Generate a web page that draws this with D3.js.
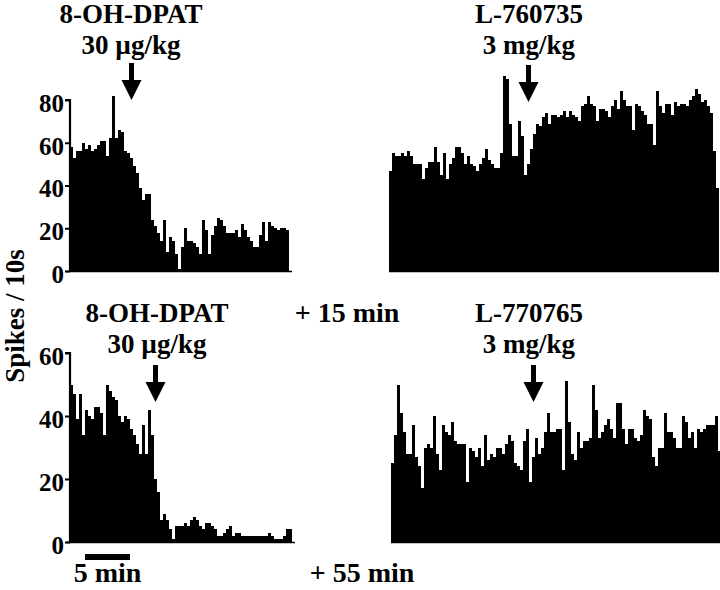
<!DOCTYPE html>
<html><head><meta charset="utf-8">
<script src="https://cdn.jsdelivr.net/npm/d3@7"></script>
<style>
body{margin:0;background:#fff}
svg{display:block}
text{font-family:"Liberation Serif","Times New Roman",serif;font-weight:bold;fill:#000}
</style>
</head><body>
<svg id="chart" width="720" height="590"></svg>
<script>
// ---- data (spikes per bin) ----
const topLeftValues = [58,53,56,56,60,57,59,56,57,59,61,61,54,62,82,62,66,65,56,55,53,49,46,39,33,36,36,24,21,18,14,24,9,16,14,8,1,11,20,14,14,13,11,8,24,19,8,17,21,25,24,21,18,18,18,19,16,22,19,16,14,11,11,17,23,14,23,21,20,19,20,20,19];
const topRightValues = [47,55,54,54,55,54,56,54,50,50,50,43,48,51,51,58,51,45,55,43,50,53,58,58,55,50,54,50,49,47,50,53,57,52,50,48,48,55,91,90,69,54,54,70,63,45,50,57,64,69,68,72,74,69,73,
  73,72,73,75,72,75,73,72,70,77,78,82,78,77,70,76,76,75,72,77,80,76,84,80,77,77,66,78,77,75,73,69,69,59,84,77,74,78,78,73,79,77,78,78,77,80,82,85,83,79,80,77,74,56,39];
const bottomLeftValues = [50,47,39,47,34,42,40,39,43,43,41,34,50,48,46,45,40,38,40,39,36,34,31,28,37,28,42,34,20,16,7,9,7,4,1,5,5,5,6,5,7,8,7,5,4,6,6,5,4,2,2,3,4,5,2,3,3,2,2,2,2,2,2,2,2,2,3,2,1,1,1,2,4,4];
const bottomRightValues = [25,34,50,41,35,28,28,37,27,24,17,30,31,30,40,28,23,37,35,34,38,32,31,31,31,19,30,29,27,30,24,34,26,28,27,30,30,28,31,34,32,25,24,23,32,36,19,27,33,28,30,35,41,35,
  35,36,36,23,51,38,28,26,35,30,32,32,33,50,42,33,35,37,39,36,33,44,44,36,31,36,36,33,32,34,42,40,39,27,24,30,30,41,35,35,33,30,30,40,38,33,35,30,36,35,36,37,37,37,40,29];
const topTicks = [0,20,40,60,80];
const bottomTicks = [0,20,40,60];
const drugNames = ["8-OH-DPAT","L-760735","8-OH-DPAT","L-770765"];
const doseLabels = ["30 \u00b5g/kg","3 mg/kg","30 \u00b5g/kg","3 mg/kg"];
const injectionBins = [20,46,28,47];
const timeLabels = ["+ 15 min","+ 55 min"];
const yAxisTitle = "Spikes / 10s";
const scaleBarLabel = "5 min";
const scaleBarBins = [5,20];

// ---- layout ----
const svg = d3.select("#chart");
const F = 27;
const panels = [
  {values: topLeftValues,     x0:70,  x1:289, yMax:80, y0:271, yTop:100, ticks: topTicks,    axis:true,  titleX:131, titleY:23,  tipY:100},
  {values: topRightValues,    x0:389, x1:719, yMax:80, y0:271, yTop:100, ticks: null,        axis:false, titleX:529, titleY:23,  tipY:102},
  {values: bottomLeftValues,  x0:70,  x1:292, yMax:60, y0:542, yTop:353, ticks: bottomTicks, axis:true,  titleX:157, titleY:322, tipY:402},
  {values: bottomRightValues, x0:391, x1:721, yMax:60, y0:542, yTop:353, ticks: null,        axis:false, titleX:529, titleY:322, tipY:402}
];

panels.forEach((p, k) => {
  const x = d3.scaleBand().domain(d3.range(p.values.length)).range([p.x0, p.x1]).padding(0);
  const y = d3.scaleLinear().domain([0, p.yMax]).range([p.y0, p.yTop]);
  p.x = x; p.y = y;
  const g = svg.append("g");
  g.selectAll("rect.bar").data(p.values).join("rect")
    .attr("class","bar")
    .attr("x",(d,i)=>x(i))
    .attr("width",x.bandwidth()+0.4)
    .attr("y",d=>y(d))
    .attr("height",d=>y(0)-y(d))
    .attr("fill","#000")
    .attr("shape-rendering","crispEdges");
  // baseline
  g.append("line").attr("x1",p.axis? p.x0-4 : p.x0).attr("x2",p.x1+ (p.axis?3:0))
    .attr("y1",y(0)+0.5).attr("y2",y(0)+0.5).attr("stroke","#000").attr("stroke-width",1.5);
  if (p.axis) {
    const ax = d3.axisLeft(y).tickValues(p.ticks).tickSize(5).tickPadding(1).tickFormat(d3.format("d"));
    const a = g.append("g").attr("transform",`translate(${p.x0},0)`).call(ax);
    a.select(".domain").attr("stroke-width",2.2).attr("d",`M-5,${y(p.yMax)}H0V${y(0)}`);
    a.selectAll(".tick line").attr("stroke-width",2);
    a.selectAll(".tick text").attr("font-size",25).attr("font-family","Liberation Serif")
      .attr("font-weight","bold").attr("dy","0.45em").attr("fill","#000");
  }
  // labels
  svg.append("text").attr("x",p.titleX).attr("y",p.titleY).attr("text-anchor","middle")
    .attr("font-size",F).text(drugNames[k]);
  svg.append("text").attr("x",p.titleX).attr("y",p.titleY+31).attr("text-anchor","middle")
    .attr("font-size",F).text(doseLabels[k]);
  // arrow
  const ax0 = x(injectionBins[k]) + x.bandwidth()/2;
  const t = p.tipY;
  svg.append("path")
    .attr("d",`M${ax0-2.5},${t-37}H${ax0+2.5}V${t-20}H${ax0+10}L${ax0},${t}L${ax0-10},${t-20}H${ax0-2.5}Z`)
    .attr("fill","#000");
});

// timing labels
svg.append("text").attr("x",347).attr("y",322).attr("text-anchor","middle").attr("font-size",28).text(timeLabels[0]);
svg.append("text").attr("x",362).attr("y",582).attr("text-anchor","middle").attr("font-size",28).text(timeLabels[1]);

// scale bar
const bl = panels[2];
svg.append("rect").attr("x",bl.x(scaleBarBins[0])).attr("width",bl.x(scaleBarBins[1])-bl.x(scaleBarBins[0]))
  .attr("y",554).attr("height",6).attr("fill","#000");
svg.append("text").attr("x",(bl.x(scaleBarBins[0])+bl.x(scaleBarBins[1]))/2).attr("y",582)
  .attr("text-anchor","middle").attr("font-size",28).text(scaleBarLabel);

// y title
svg.append("text").attr("transform","translate(24,316) rotate(-90)").attr("text-anchor","middle")
  .attr("font-size",F).text(yAxisTitle);
</script>
</body></html>
